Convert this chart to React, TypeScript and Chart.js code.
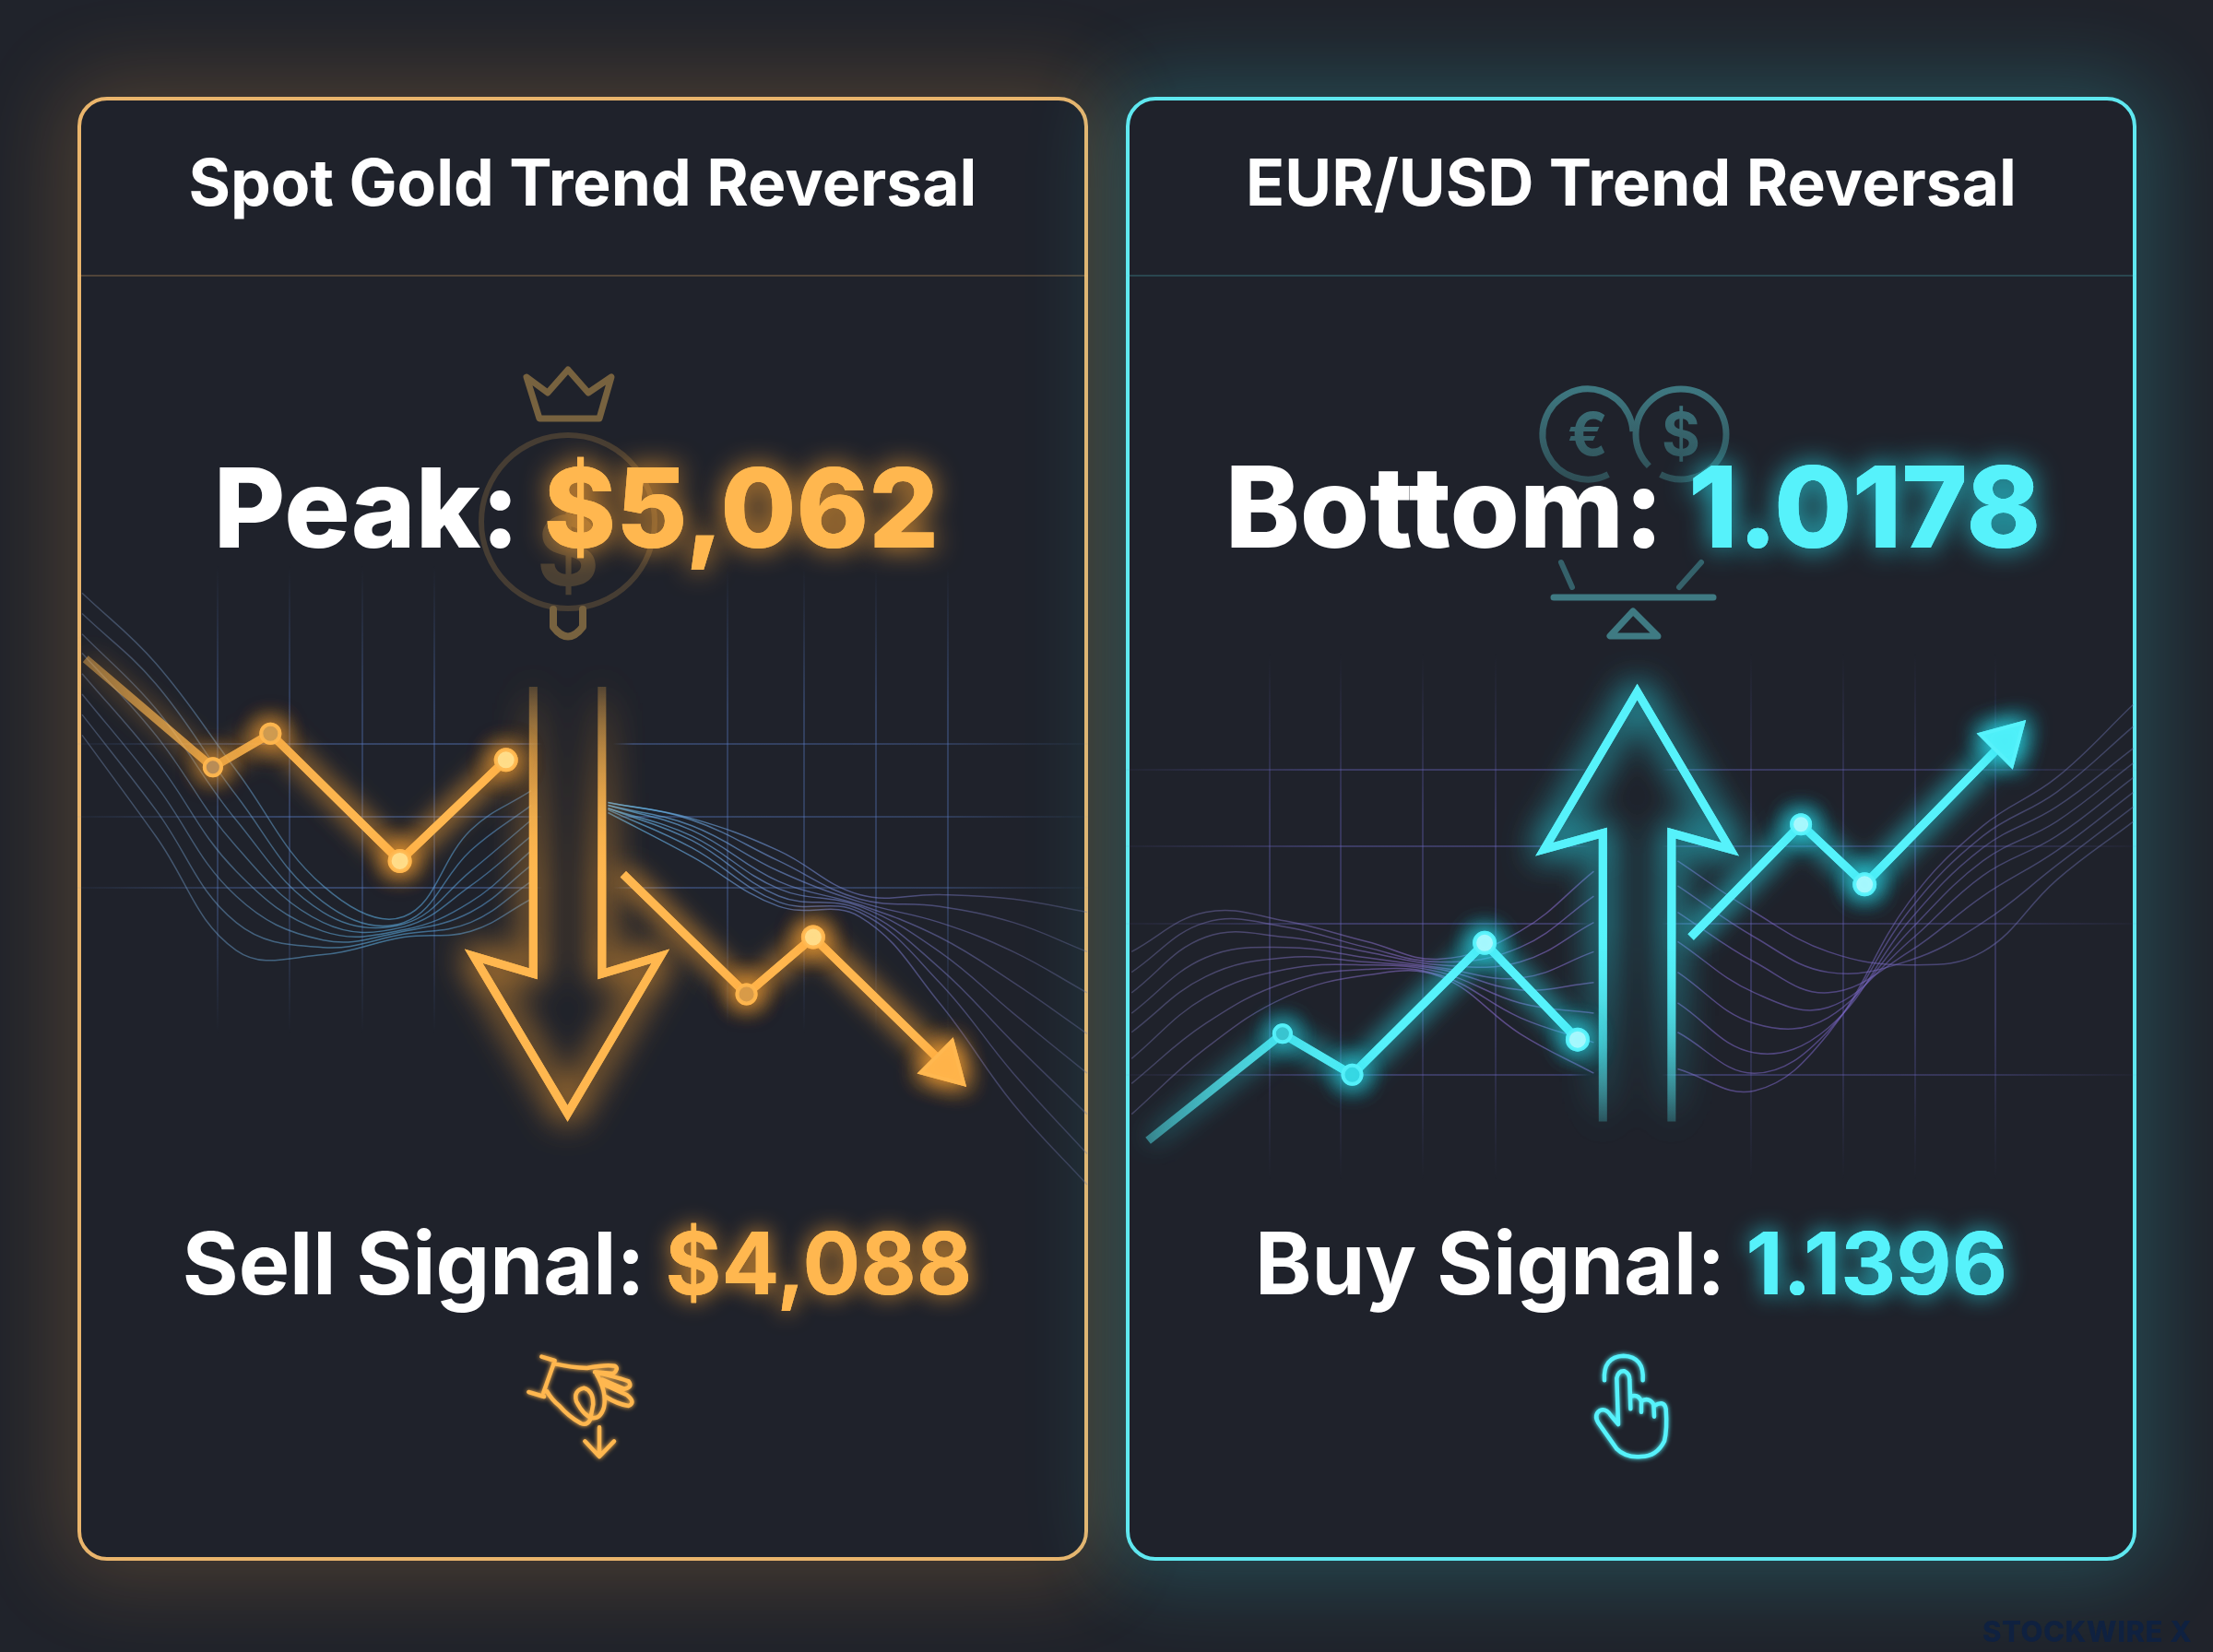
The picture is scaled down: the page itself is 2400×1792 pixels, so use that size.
import { Chart, registerables } from "chart.js";
import { useEffect, useRef } from "react";

Chart.register(...registerables);

// both panels use a 0-100 time axis and a 0-100 level axis
const goldTrendAX = [0.8, 13.4, 19.1, 31.9, 42.4];
const goldTrendAY = [61.6, 54.2, 56.5, 47.8, 54.7];
const goldTrendBX = [54.0, 66.2, 72.8, 85.9];
const goldTrendBY = [46.9, 38.7, 42.6, 33.8];
const goldArrowX = [45.1, 45.1, 39.2, 48.5, 57.7, 51.9, 51.9];
const goldArrowY = [59.7, 40.1, 41.3, 30.55, 41.3, 40.1, 59.7];
const goldGridX = [13.85, 21, 28.2, 35.3, 64.3, 71.9, 79, 86.1];
const goldGridY = [55.8, 50.8, 46];

const goldWaveAX = [0.46, 7.75, 15.7, 24.3, 32.3, 38.9, 44.9];
const goldWavesA = [
  [66.1, 61.3, 54, 46.1, 44, 49.9, 52.6],
  [64.7, 59.9, 52.3, 45, 43.6, 48.5, 51.6],
  [63.3, 58.2, 50.6, 44.3, 43.5, 47.1, 50.6],
  [62, 56.4, 48.8, 43.6, 43.3, 46.1, 49.5],
  [60.6, 54.7, 47.1, 43, 43.1, 45, 48.5],
  [59.2, 53, 45.4, 42.4, 43, 44.3, 47.5],
  [57.8, 51.3, 43.6, 41.9, 42.8, 43.6, 46.4],
  [56.4, 49.5, 41.7, 41.4, 42.6, 43, 45.2],
];
const goldWaveBX = [52.5, 60.8, 69.4, 77.4, 85.3, 92.6, 99.9];
const goldWavesB = [
  [51.8, 50.7, 48.5, 45.5, 45.5, 45.2, 44.3],
  [51.8, 50.6, 47.8, 45.2, 44.7, 43.6, 41.6],
  [51.6, 50.2, 47.1, 45, 43.6, 41.6, 38.8],
  [51.6, 49.9, 46.4, 44.8, 42.6, 39.5, 36],
  [51.4, 49.5, 45.9, 44.7, 41.6, 37.4, 33.3],
  [51.4, 49.2, 45.4, 44.5, 40.5, 35.4, 30.5],
  [51.3, 48.7, 45, 44.3, 39.5, 33.3, 27.8],
  [51.1, 48.1, 44.7, 44, 38.1, 31.2, 25.7],
];

const cyanTrendAX = [2.2, 15.5, 22.4, 35.5, 44.7];
const cyanTrendAY = [28.7, 36.0, 33.2, 42.2, 35.6];
const cyanTrendBX = [55.9, 66.8, 73.1, 87.0];
const cyanTrendBY = [42.6, 50.3, 46.2, 56.0];
const cyanArrowX = [47.2, 47.2, 41.4, 50.6, 59.8, 54.0, 54.0];
const cyanArrowY = [30.0, 49.7, 48.6, 59.35, 48.6, 49.7, 30.0];
const cyanGridX = [14.2, 21.3, 29.4, 36.6, 61.9, 71, 78.1, 86];
const cyanGridY = [54, 48.8, 43.5, 33.2];

const cyanWaveAX = [0.57, 7.9, 15.8, 23.8, 31.1, 39, 46.3];
const cyanWavesA = [
  [41.6, 44.3, 43.7, 42.3, 41.1, 43, 47.1],
  [40.2, 43.6, 43.3, 41.9, 40.9, 41.9, 45.4],
  [38.8, 42.6, 42.6, 41.6, 40.7, 40.9, 43.6],
  [37.4, 41.2, 41.9, 41.2, 40.5, 39.8, 41.6],
  [36.1, 39.9, 41.2, 40.9, 40.4, 39, 39.5],
  [34.3, 38.5, 40.4, 40.7, 40.2, 38.1, 37.4],
  [32.6, 36.7, 39.5, 40.4, 40, 37.1, 35.4],
  [30.5, 35, 38.5, 40, 39.9, 36, 33.3],
];
const cyanWaveBX = [54.6, 62.2, 69.5, 77.5, 84.8, 92.1, 99.7];
const cyanWavesB = [
  [47.8, 44.3, 41.6, 40.7, 41.6, 46.5, 50.5],
  [46.1, 42.6, 40.2, 41, 43.6, 47.5, 51.5],
  [44.3, 40.9, 38.8, 41.6, 45.4, 48.5, 52.5],
  [42.3, 38.8, 37.8, 42.3, 46.8, 49.5, 53.5],
  [40.2, 36.7, 37.1, 43, 47.8, 50.5, 54.5],
  [38.1, 34.7, 36.4, 43.7, 48.7, 51.5, 55.5],
  [36.1, 33.3, 36.2, 44.4, 49.5, 52.5, 57],
  [33.6, 32.1, 36, 45, 50.2, 53.5, 58.5],
];

const PANEL_W = 1096;
const PANEL_H = 1588;

const points = (xs: number[], ys: number[]) => xs.map((x, i) => ({ x, y: ys[i] }));

function gradient(chart: any, axis: "x" | "y", from: number, to: number, stops: [number, string][], fallback: string) {
  if (!chart.chartArea) return fallback;
  const scale = chart.scales[axis];
  const a = scale.getPixelForValue(from);
  const b = scale.getPixelForValue(to);
  const g = axis === "x" ? chart.ctx.createLinearGradient(a, 0, b, 0) : chart.ctx.createLinearGradient(0, a, 0, b);
  stops.forEach(([s, c]) => g.addColorStop(s, c));
  return g;
}

const glowPlugin = {
  id: "glow",
  beforeDatasetDraw(chart: any, args: any) {
    const glow = chart.data.datasets[args.index].glow;
    if (!glow) return;
    chart.ctx.save();
    chart.ctx.shadowColor = glow.color;
    chart.ctx.shadowBlur = glow.blur;
  },
  afterDatasetDraw(chart: any, args: any) {
    if (chart.data.datasets[args.index].glow) chart.ctx.restore();
  },
};

function drawPair(ctx: CanvasRenderingContext2D, label: string, value: string, color: string, glow: string, px: number, weight: number, cx: number, y: number, blur: number) {
  ctx.font = `${weight} ${px}px Inter`;
  const w1 = ctx.measureText(label).width;
  const w2 = ctx.measureText(value).width;
  const x = cx - (w1 + w2) / 2;
  ctx.textAlign = "left";
  ctx.textBaseline = "alphabetic";
  ctx.save();
  ctx.fillStyle = "#ffffff";
  ctx.fillText(label, x, y);
  ctx.shadowColor = glow;
  ctx.shadowBlur = blur;
  ctx.fillStyle = color;
  ctx.fillText(value, x + w1, y);
  ctx.shadowBlur = 0;
  ctx.fillText(value, x + w1, y);
  ctx.restore();
}

function strokeSvg(ctx: CanvasRenderingContext2D, d: string, ox: number, oy: number, k: number, width: number, color: string, blur = 0) {
  ctx.save();
  ctx.translate(ox, oy);
  ctx.scale(k, k);
  ctx.lineCap = "round";
  ctx.lineJoin = "round";
  ctx.lineWidth = width / k;
  ctx.strokeStyle = color;
  if (blur) {
    ctx.shadowColor = color;
    ctx.shadowBlur = blur;
  }
  ctx.stroke(new Path2D(d));
  ctx.restore();
}

function goldEmblem(ctx: CanvasRenderingContext2D) {
  strokeSvg(ctx, "M487 304 L510 321 L532 296 L554 321 L579 304 L566 349 L501 349 Z", 0, 0, 1, 7, "#77623f");
  ctx.save();
  ctx.strokeStyle = "#463d33";
  ctx.lineWidth = 6;
  ctx.beginPath();
  ctx.arc(532, 461, 94, 0, Math.PI * 2);
  ctx.stroke();
  ctx.fillStyle = "#4a4034";
  ctx.font = "700 104px Inter";
  ctx.textAlign = "center";
  ctx.fillText("$", 532, 530);
  ctx.restore();
  strokeSvg(ctx, "M516 556 L516 575 Q532 596 548 575 L548 556", 0, 0, 1, 8, "#77623f");
}

function cyanEmblem(ctx: CanvasRenderingContext2D) {
  const col = ctx.createLinearGradient(0, 310, 0, 440);
  col.addColorStop(0, "#3f7a83");
  col.addColorStop(1, "#2b444b");
  ctx.save();
  ctx.strokeStyle = col;
  ctx.lineWidth = 7;
  ctx.beginPath();
  ctx.arc(501, 366, 49, Math.PI * 0.35, Math.PI * 1.98);
  ctx.stroke();
  ctx.beginPath();
  ctx.arc(602, 366, 49, Math.PI * 0.75, Math.PI * 2.65);
  ctx.stroke();
  ctx.fillStyle = col;
  ctx.font = "700 64px Inter";
  ctx.textAlign = "center";
  ctx.fillText("€", 501, 389);
  ctx.fillText("$", 602, 389);
  ctx.restore();
  strokeSvg(ctx, "M472 505 L484 532 M624 505 L600 532", 0, 0, 1, 6, "#35616a");
  strokeSvg(ctx, "M464 543 L637 543", 0, 0, 1, 7, "#3f7a83");
  strokeSvg(ctx, "M550 558 L525 585 L577 585 Z", 0, 0, 1, 7, "#3f7a83");
}

const goldHand =
  "M262 95 L305 108 L268 212 M220 210 L270 225 M305 118 Q360 130 410 132 Q470 120 500 125 Q515 135 495 150 L435 145 Q520 165 545 175 Q560 195 530 200 L460 170 M465 185 L540 220 Q570 245 545 255 Q510 250 470 225 M440 150 Q475 210 465 260 Q455 295 430 295 Q400 290 375 240 Q365 205 400 197 Q430 205 430 250 L420 300 Q410 320 390 312 Q350 290 320 255 Q295 235 280 208 M450 325 L450 415 M403 370 L450 420 L498 370";
const cyanHand =
  "M300 172 Q295 95 362 92 Q430 95 425 172 M345 315 L340 165 Q345 140 365 142 Q382 150 382 170 L385 265 M385 225 Q410 215 420 240 L420 275 M420 240 Q445 225 460 250 L462 290 M462 255 Q495 235 500 265 Q505 330 495 370 Q470 420 420 420 Q370 425 340 395 L280 310 Q265 285 285 270 Q305 262 320 285 L345 315";

function panelPlugin(p: any) {
  return {
    id: "panelText",
    beforeDatasetsDraw(chart: any) {
      const ctx = chart.ctx;
      ctx.save();
      ctx.fillStyle = p.divider;
      ctx.fillRect(0, 193, PANEL_W, 2);
      ctx.restore();
      p.emblem(ctx);
    },
    afterDatasetsDraw(chart: any) {
      const ctx = chart.ctx;
      const cx = PANEL_W / 2;
      ctx.save();
      ctx.font = "700 69.5px Inter";
      ctx.textAlign = "center";
      ctx.fillStyle = "#ffffff";
      ctx.fillText(p.title, cx, 118);
      ctx.restore();
      drawPair(ctx, p.bigLabel, p.bigValue, p.color, p.glow, p.bigPx, 800, cx + p.bigShift, 489, 30);
      drawPair(ctx, p.smallLabel, p.smallValue, p.color, p.glow, 93, 700, cx + p.smallShift, 1299, 24);
      strokeSvg(ctx, p.hand, p.handX, p.handY, 1 / 3, 4.5, p.color, 5);
    },
  };
}

function buildDatasets(p: any) {
  const thin = (xs: number[], ys: number[][]) =>
    ys.map((row) => ({
      data: points(xs, row),
      showLine: true,
      borderWidth: 1.5,
      tension: 0.4,
      pointRadius: 0,
      borderColor: (c: any) => gradient(c.chart, "x", 0, 100, p.waveStops, "rgba(90,130,190,.3)"),
    }));
  const trend = (xs: number[], ys: number[], stops: any, endRot: number | null, fills: string[], radii: number[]) => ({
    data: points(xs, ys),
    showLine: true,
    borderWidth: 9,
    tension: 0,
    borderJoinStyle: "miter",
    borderColor: (c: any) => gradient(c.chart, "x", xs[0], xs[xs.length - 1], stops, p.color),
    pointStyle: xs.map((_, i) => (endRot !== null && i === xs.length - 1 ? "triangle" : "circle")),
    rotation: xs.map((_, i) => (endRot !== null && i === xs.length - 1 ? endRot : 0)),
    pointRadius: radii,
    pointBackgroundColor: fills,
    pointBorderColor: xs.map((_, i) => (endRot !== null && i === xs.length - 1 ? p.color : p.pointRing)),
    pointBorderWidth: 4,
    glow: { color: p.glow, blur: 28 },
  });
  const arrow = () => ({
    data: points(p.arrowX, p.arrowY),
    showLine: true,
    borderWidth: 9,
    tension: 0,
    borderJoinStyle: "miter",
    pointRadius: 0,
    borderColor: (c: any) => gradient(c.chart, "y", p.fadeFrom, p.fadeTo, p.fadeStops, p.color),
    glow: { color: p.glow, blur: 38 },
  });
  const trendA = () => trend(p.ax, p.ay, p.trendStops, null, p.aFills, [0, 9, 10, 11, 11]);
  const trendB = () => trend(p.bx, p.by, [[0, p.color], [1, p.color]], p.rot, p.bFills, [0, 10, 11, 28]);
  // the second copies sit underneath and only thicken the halo
  return [trendA(), trendB(), arrow(), trendB(), trendA(), arrow(), ...thin(p.waveAX, p.wavesA), ...thin(p.waveBX, p.wavesB)];
}

const goldPanel = {
  title: "Spot Gold Trend Reversal",
  bigLabel: "Peak: ",
  bigValue: "$5,062",
  bigPx: 119,
  bigShift: -7,
  smallLabel: "Sell Signal: ",
  smallValue: "$4,088",
  smallShift: -6,
  color: "#ffb74f",
  glow: "rgba(255,165,50,.85)",
  pointRing: "rgba(255,183,79,.9)",
  divider: "rgba(255,190,110,.22)",
  border: "#eab56c",
  shadow: "0 0 90px 22px rgba(255,175,80,.19)",
  emblem: goldEmblem,
  hand: goldHand,
  handX: 416,
  handY: 1335,
  ax: goldTrendAX,
  ay: goldTrendAY,
  bx: goldTrendBX,
  by: goldTrendBY,
  rot: 135,
  arrowX: goldArrowX,
  arrowY: goldArrowY,
  gridX: goldGridX,
  gridY: goldGridY,
  waveAX: goldWaveAX,
  wavesA: goldWavesA,
  waveBX: goldWaveBX,
  wavesB: goldWavesB,
  aFills: ["#000", "#b08a5c", "#c89a55", "#ffe596", "#ffe596"],
  bFills: ["#000", "#d39a4c", "#ffe596", "#ffb74f"],
  trendStops: [[0, "rgba(255,183,79,.25)"], [0.3, "rgba(255,183,79,.55)"], [0.7, "#ffb74f"], [1, "#ffb74f"]],
  fadeFrom: 59.7,
  fadeTo: 30,
  fadeStops: [[0, "rgba(255,183,79,.12)"], [0.25, "rgba(255,183,79,.6)"], [0.45, "#ffb74f"], [1, "#ffb74f"]],
  waveStops: [[0, "rgba(120,140,180,.38)"], [0.3, "rgba(90,170,220,.6)"], [0.45, "rgba(90,150,210,.5)"], [0.55, "rgba(100,180,230,.65)"], [0.8, "rgba(120,120,200,.55)"], [1, "rgba(110,110,160,.35)"]],
  gridVFrom: 68,
  gridVTo: 36,
  lineTint: "90,125,200",
};

const cyanPanel = {
  title: "EUR/USD Trend Reversal",
  bigLabel: "Bottom: ",
  bigValue: "1.0178",
  bigPx: 122,
  bigShift: 2,
  smallLabel: "Buy Signal: ",
  smallValue: "1.1396",
  smallShift: 0,
  color: "#56f2fb",
  glow: "rgba(40,225,240,.85)",
  pointRing: "rgba(86,242,251,.9)",
  divider: "rgba(90,220,230,.2)",
  border: "#5fe8f0",
  shadow: "0 0 90px 22px rgba(60,225,235,.2)",
  emblem: cyanEmblem,
  hand: cyanHand,
  handX: 419,
  handY: 1335,
  ax: cyanTrendAX,
  ay: cyanTrendAY,
  bx: cyanTrendBX,
  by: cyanTrendBY,
  rot: 45,
  arrowX: cyanArrowX,
  arrowY: cyanArrowY,
  gridX: cyanGridX,
  gridY: cyanGridY,
  waveAX: cyanWaveAX,
  wavesA: cyanWavesA,
  waveBX: cyanWaveBX,
  wavesB: cyanWavesB,
  aFills: ["#000", "#3cc0cc", "#38d6e2", "#b8fbff", "#b8fbff"],
  bFills: ["#000", "#b8fbff", "#b8fbff", "#56f2fb"],
  trendStops: [[0, "rgba(86,242,251,.25)"], [0.3, "rgba(86,242,251,.65)"], [0.6, "#56f2fb"], [1, "#56f2fb"]],
  fadeFrom: 30,
  fadeTo: 59.7,
  fadeStops: [[0, "rgba(86,242,251,.12)"], [0.25, "rgba(86,242,251,.6)"], [0.45, "#56f2fb"], [1, "#56f2fb"]],
  waveStops: [[0, "rgba(120,120,180,.38)"], [0.3, "rgba(135,105,200,.6)"], [0.7, "rgba(120,100,195,.55)"], [1, "rgba(110,120,180,.4)"]],
  gridVFrom: 62,
  gridVTo: 26,
  lineTint: "105,100,190",
};

function Panel({ p, left }: { p: any; left: number }) {
  const chartRef = useRef<HTMLCanvasElement | null>(null);
  useEffect(() => {
    const ctx = chartRef.current?.getContext("2d");
    if (!ctx) return;
    const chart = new Chart(ctx, {
      type: "scatter",
      data: { datasets: buildDatasets(p) as any },
      plugins: [glowPlugin, panelPlugin(p)],
      options: {
        responsive: false,
        animation: false,
        devicePixelRatio: 1,
        layout: { padding: 0, autoPadding: false },
        plugins: { legend: { display: false }, tooltip: { enabled: false } },
        scales: {
          x: {
            type: "linear",
            min: 0,
            max: 100,
            afterBuildTicks: (s: any) => {
              s.ticks = p.gridX.map((value: number) => ({ value }));
            },
            ticks: { display: false },
            border: { display: false },
            grid: {
              drawTicks: false,
              lineWidth: 2,
              color: (c: any) =>
                gradient(c.chart, "y", p.gridVFrom, p.gridVTo, [[0, `rgba(${p.lineTint},0)`], [0.3, `rgba(${p.lineTint},.32)`], [0.7, `rgba(${p.lineTint},.32)`], [1, `rgba(${p.lineTint},0)`]], "transparent"),
            },
          },
          y: {
            type: "linear",
            min: 0,
            max: 100,
            afterBuildTicks: (s: any) => {
              s.ticks = p.gridY.map((value: number) => ({ value }));
            },
            ticks: { display: false },
            border: { display: false },
            grid: {
              drawTicks: false,
              lineWidth: 2,
              color: (c: any) =>
                gradient(c.chart, "x", 0, 100, [[0, `rgba(${p.lineTint},.05)`], [0.2, `rgba(${p.lineTint},.38)`], [0.44, `rgba(${p.lineTint},.38)`], [0.46, `rgba(${p.lineTint},0)`], [0.53, `rgba(${p.lineTint},0)`], [0.55, `rgba(${p.lineTint},.38)`], [0.85, `rgba(${p.lineTint},.3)`], [1, `rgba(${p.lineTint},.03)`]], "transparent"),
            },
          },
        },
      },
    });
    return () => chart.destroy();
  }, [p]);

  return (
    <div
      style={{
        position: "absolute",
        left,
        top: 105,
        width: PANEL_W,
        height: PANEL_H,
        boxSizing: "border-box",
        border: `4px solid ${p.border}`,
        borderRadius: 32,
        background: "#1f222b",
        boxShadow: p.shadow,
      }}
    >
      <canvas ref={chartRef} width={PANEL_W} height={PANEL_H} style={{ position: "absolute", left: -4, top: -4, width: PANEL_W, height: PANEL_H }} />
    </div>
  );
}

export default function App() {
  return (
    <div style={{ position: "fixed", left: 0, top: 0, width: 2400, height: 1792, overflow: "hidden", background: "#20232b", fontFamily: "Inter" }}>
      <Panel p={goldPanel} left={84} />
      <Panel p={cyanPanel} left={1221} />
      <div style={{ position: "absolute", left: 2150, top: 1750, fontFamily: "Inter", fontWeight: 800, fontSize: 31, lineHeight: "40px", letterSpacing: 0.5, color: "#0f2140", whiteSpace: "nowrap" }}>STOCKWIRE X</div>
    </div>
  );
}
